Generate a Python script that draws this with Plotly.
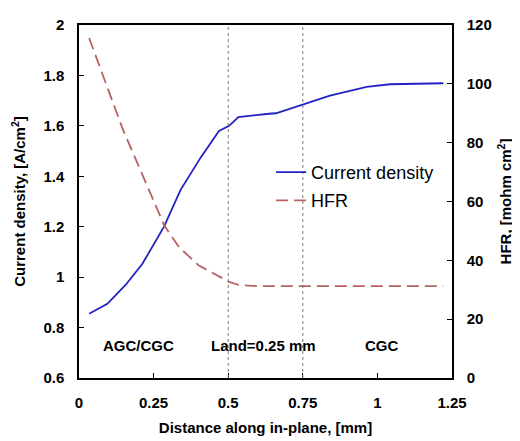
import plotly.graph_objects as go

# Distance along in-plane [mm]
cd_x = [0.034, 0.095, 0.156, 0.212, 0.285, 0.34, 0.408, 0.469, 0.503, 0.534, 0.637,
        0.66, 0.752, 0.841, 0.964, 1.042, 1.221]
current_density = [0.855, 0.894, 0.969, 1.052, 1.2, 1.345, 1.475, 1.58, 1.6, 1.635, 1.648,
                   1.65, 1.685, 1.72, 1.755, 1.765, 1.769]

hfr_x = [0.034, 0.145, 0.285, 0.335, 0.402, 0.469, 0.503, 0.536, 0.6, 0.8, 1.0, 1.221]
hfr = [115.6, 85.0, 52.0, 44.5, 38.2, 34.4, 32.7, 31.6, 31.2, 31.2, 31.2, 31.2]

region_x = [0.2, 0.617, 1.015]
region_y = 0.728
region_labels = ["AGC/CGC", "Land=0.25 mm", "CGC"]
boundaries = [0.5, 0.75]

x_ticks = [0, 0.25, 0.5, 0.75, 1, 1.25]
y_ticks = [0.6, 0.8, 1, 1.2, 1.4, 1.6, 1.8, 2]
y2_ticks = [0, 20, 40, 60, 80, 100, 120]

font = "Liberation Sans, Arial, sans-serif"
tick_font = dict(family=font, size=15, color="black", weight="bold")

fig = go.Figure()
fig.add_trace(go.Scatter(
    x=cd_x, y=current_density, mode="lines", name="Current density", legendgroup="a",
    line=dict(color="#2222c4", width=1.8),
))
fig.add_trace(go.Scatter(
    x=hfr_x, y=hfr, mode="lines", name="HFR", yaxis="y2", legendgroup="b",
    line=dict(color="#b86262", width=1.8, dash="12px,6px"),
))

for b in boundaries:
    fig.add_shape(type="line", xref="x", yref="paper", x0=b, x1=b, y0=0, y1=1,
                  line=dict(color="#777777", width=1, dash="dot"))

for x, t in zip(region_x, region_labels):
    fig.add_annotation(x=x, y=region_y, xref="x", yref="y", text=t, showarrow=False,
                       font=dict(family=font, size=15, color="black", weight="bold"))

# the page body adds an 8px margin, so the margins are shifted by 8px
fig.update_layout(
    width=520, height=441,
    margin=dict(l=71, r=76, t=8, b=71),
    plot_bgcolor="white", paper_bgcolor="white",
    font=dict(family=font, size=14, color="black"),
    showlegend=True,
    legend=dict(x=0.515, y=0.635, xanchor="left", yanchor="top", traceorder="grouped",
                bgcolor="rgba(0,0,0,0)", font=dict(family=font, size=18, color="black"),
                tracegroupgap=2, itemwidth=30),
    xaxis=dict(
        range=[0, 1.25], tickvals=x_ticks, ticktext=[f"{v:g}" for v in x_ticks],
        showgrid=False, zeroline=False, showline=True, linecolor="black", linewidth=1.5,
        mirror=True, ticks="inside", ticklen=5, tickcolor="black", tickfont=tick_font,
        ticklabelstandoff=10,
        title=dict(text="Distance along in-plane, [mm]", standoff=13,
                   font=dict(family=font, size=15, color="black", weight="bold")),
    ),
    yaxis=dict(
        range=[0.6, 2], tickvals=y_ticks, ticktext=[f"{v:g}" for v in y_ticks],
        showgrid=False, zeroline=False, showline=True, linecolor="black", linewidth=1.5,
        ticks="inside", ticklen=5, tickcolor="black", tickfont=tick_font,
        ticklabelstandoff=10,
        title=dict(text="Current density, [A/cm<sup>2</sup>]", standoff=14,
                   font=dict(family=font, size=15, color="black", weight="bold")),
    ),
    yaxis2=dict(
        range=[0, 120], tickvals=y2_ticks, overlaying="y", side="right",
        showgrid=False, zeroline=False, showline=True, linecolor="black", linewidth=1.5,
        ticks="inside", ticklen=5, tickcolor="black", tickfont=tick_font,
        ticklabelstandoff=10,
        title=dict(text="HFR, [mohm cm<sup>2</sup>]", standoff=10,
                   font=dict(family=font, size=15, color="black", weight="bold")),
    ),
)

fig.write_html("out.html")
